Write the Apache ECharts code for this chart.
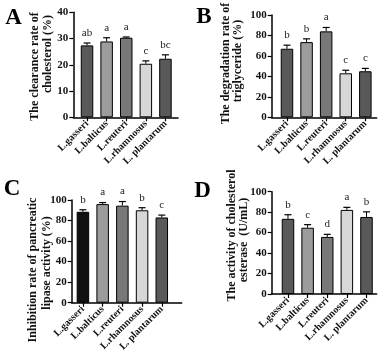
<!DOCTYPE html>
<html><head><meta charset="utf-8">
<script src="https://cdn.jsdelivr.net/npm/echarts@6/dist/echarts.min.js"></script>
<style>html,body{margin:0;padding:0;background:#fff}#c{width:383px;height:358px}</style>
</head><body><div id="c"></div>
<script>
var categories = ['L.gasseri', 'L.balticus', 'L.reuteri', 'L.rhamnosus', 'L. plantarum'];

var valuesA = [27.4, 28.9, 30.3, 20.4, 22.3];
var errorsA = [0.9, 1.4, 0.3, 1.1, 1.5];
var lettersA = ['ab', 'a', 'a', 'c', 'bc'];

var valuesB = [67, 73.5, 84, 43, 45];
var errorsB = [3.5, 3.2, 3.8, 3, 2.8];
var lettersB = ['b', 'b', 'a', 'c', 'c'];

var valuesC = [88.5, 96, 94.5, 90, 83];
var errorsC = [2, 1.5, 4, 2.5, 2.3];
var lettersC = ['b', 'a', 'a', 'b', 'c'];

var valuesD = [73.5, 64.8, 55.8, 82.2, 75.3];
var errorsD = [4, 3, 2.5, 2.5, 5];
var lettersD = ['b', 'c', 'd', 'a', 'b'];

var yTicksA = [0, 10, 20, 30, 40];
var yTicksBCD = [0, 20, 40, 60, 80, 100];

var colorsABD = ['#595959', '#9c9c9c', '#787878', '#d7d7d7', '#595959'];
var colorsC = ['#111111', '#9c9c9c', '#787878', '#d7d7d7', '#595959'];

var FONT = '"Liberation Serif", "Times New Roman", serif';

var panels = [
  {vals: valuesA, errs: errorsA, letters: lettersA, ticks: yTicksA, colors: colorsABD,
   grid: {left: 73.3, top: 12.3, width: 104.7, height: 105}, xmin: -0.70, xmax: 4.64},
  {vals: valuesB, errs: errorsB, letters: lettersB, ticks: yTicksBCD, colors: colorsABD,
   grid: {left: 271.7, top: 15, width: 105, height: 102.3}, xmin: -0.78, xmax: 4.58},
  {vals: valuesC, errs: errorsC, letters: lettersC, ticks: yTicksBCD, colors: colorsC,
   grid: {left: 71.7, top: 200, width: 110, height: 102.7}, xmin: -0.57, xmax: 5.01},
  {vals: valuesD, errs: errorsD, letters: lettersD, ticks: yTicksBCD, colors: colorsABD,
   grid: {left: 271.7, top: 191.7, width: 105, height: 102.3}, xmin: -0.83, xmax: 4.52}
];

var grids = [], xAxes = [], yAxes = [], series = [];
var idxs = [0, 1, 2, 3, 4];
panels.forEach(function (p, i) {
  grids.push(p.grid);
  xAxes.push({
    type: 'value', gridIndex: i, min: p.xmin, max: p.xmax,
    splitLine: {show: false},
    axisLine: {show: true, onZero: false, lineStyle: {color: '#000', width: 1.5}},
    axisTick: {show: true, customValues: idxs, length: 4, lineStyle: {color: '#000', width: 1.2}},
    axisLabel: {
      customValues: idxs, rotate: 45, margin: 5, fontSize: 10, fontWeight: 'bold',
      fontFamily: FONT, color: '#111',
      formatter: function (v) { return categories[Math.round(v)]; }
    }
  });
  var tmax = p.ticks[p.ticks.length - 1];
  yAxes.push({
    type: 'value', gridIndex: i, min: 0, max: tmax, interval: p.ticks[1] - p.ticks[0],
    splitLine: {show: false},
    axisLine: {show: true, onZero: false, lineStyle: {color: '#000', width: 1.5}},
    axisTick: {show: true, length: 4, lineStyle: {color: '#000', width: 1.2}},
    axisLabel: {margin: 5, fontSize: 11, fontWeight: 'bold', fontFamily: FONT, color: '#111'}
  });
  series.push({
    type: 'bar', xAxisIndex: i, yAxisIndex: i, barWidth: 12.5,
    data: p.vals.map(function (v, k) {
      return {value: [k, v], itemStyle: {color: p.colors[k], borderColor: '#000', borderWidth: 1}};
    }),
    silent: true, animation: false
  });
  series.push({
    type: 'custom', xAxisIndex: i, yAxisIndex: i, silent: true, animation: false, z: 5,
    data: p.vals.map(function (v, k) { return [k, v, p.errs[k], k]; }),
    renderItem: function (params, api) {
      var x = api.value(0), v = api.value(1), e = api.value(2), k = api.value(3);
      var p0 = api.coord([x, v]);
      var p1 = api.coord([x, v + e]);
      return {
        type: 'group',
        children: [
          {type: 'line', shape: {x1: p0[0], y1: p0[1], x2: p1[0], y2: p1[1]}, style: {stroke: '#000', lineWidth: 1}},
          {type: 'line', shape: {x1: p1[0] - 3.5, y1: p1[1], x2: p1[0] + 3.5, y2: p1[1]}, style: {stroke: '#000', lineWidth: 1.2}},
          {type: 'text', x: p1[0], y: p1[1] - 10, style: {text: p.letters[k], fill: '#222', font: '11px ' + FONT, align: 'center', verticalAlign: 'middle'}}
        ]
      };
    }
  });
});

var titles = [
  ['The clearance rate of', 35, 66.5], ['cholesterol (%)', 47.5, 54],
  ['The degradation rate of', 225.5, 63.5], ['triglyceride (%)', 237.5, 61],
  ['Inhibition rate of pancreatic', 33, 270], ['lipase activity (%)', 47, 263],
  ['The activity of cholesterol', 231.5, 235.5], ['esterase  (U/mL)', 244, 240]
];
var panelLetters = [['A', 13.5, 18], ['B', 204, 17], ['C', 12, 189], ['D', 202.5, 191]];

var graphics = [];
titles.forEach(function (t) {
  graphics.push({type: 'text', x: t[1], y: t[2], rotation: Math.PI / 2, silent: true,
    style: {text: t[0], fill: '#111', font: 'bold 12px ' + FONT, textAlign: 'center', textVerticalAlign: 'middle'}});
});
panelLetters.forEach(function (t) {
  graphics.push({type: 'text', x: t[1], y: t[2], silent: true,
    style: {text: t[0], fill: '#000', font: 'bold 23px ' + FONT, textAlign: 'center', textVerticalAlign: 'middle'}});
});

var chart = echarts.init(document.getElementById('c'), null, {renderer: 'canvas'});
chart.setOption({
  animation: false,
  backgroundColor: '#fff',
  grid: grids, xAxis: xAxes, yAxis: yAxes, series: series,
  graphic: graphics
});
</script></body></html>
